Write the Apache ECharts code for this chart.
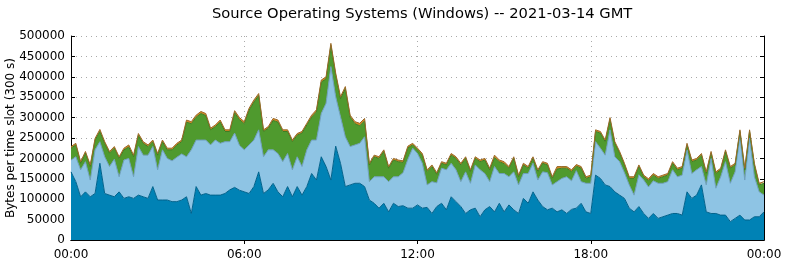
<!DOCTYPE html>
<html>
<head>
<meta charset="utf-8">
<script src="https://cdn.jsdelivr.net/npm/echarts@6/dist/echarts.min.js"></script>
<style>
  html, body { margin: 0; padding: 0; background: #fff; }
  #chart { width: 785px; height: 264px; }
</style>
</head>
<body>
<div id="chart"></div>
<script>
// 10-minute slots, 00:00 .. 24:00 (values in bytes per 300 s slot)
var slotMinutes = 10;
var slotCount = 145;

// layer values, bottom to top
var darkBlue = [
    167000, 143000, 106000, 118000, 106000, 114000, 188000, 114000, 110000, 106000,
    118000, 102000, 106000, 102000, 110000, 106000, 102000, 131000, 98000, 98000,
    98000, 94000, 94000, 98000, 106000, 65000, 131000, 110000, 114000, 110000,
    110000, 110000, 114000, 123000, 129000, 122000, 118000, 114000, 131000, 167000,
    114000, 123000, 139000, 118000, 106000, 131000, 106000, 131000, 110000, 131000,
    163000, 147000, 204000, 180000, 147000, 230000, 188000, 131000, 135000, 139000,
    139000, 131000, 98000, 90000, 78000, 90000, 69000, 90000, 82000, 84000,
    78000, 78000, 86000, 78000, 80000, 65000, 82000, 90000, 74000, 106000,
    94000, 82000, 65000, 74000, 78000, 57000, 74000, 82000, 69000, 90000,
    69000, 86000, 74000, 65000, 102000, 90000, 118000, 98000, 82000, 74000,
    78000, 69000, 74000, 65000, 75000, 78000, 90000, 69000, 65000, 159000,
    151000, 135000, 131000, 118000, 110000, 102000, 78000, 69000, 82000, 65000,
    53000, 65000, 53000, 57000, 61000, 65000, 65000, 61000, 118000, 102000,
    110000, 135000, 69000, 65000, 65000, 61000, 61000, 45000, 53000, 61000,
    49000, 49000, 57000, 57000, 69000
];
var lightBlue = [
    29000, 61000, 66000, 74000, 41000, 107000, 53000, 90000, 70000, 92000,
    37000, 94000, 94000, 53000, 119000, 102000, 106000, 98000, 74000, 123000,
    102000, 100000, 109000, 113000, 98000, 156000, 114000, 135000, 131000, 123000,
    135000, 127000, 127000, 118000, 133000, 110000, 103000, 119000, 114000, 103000,
    90000, 98000, 82000, 94000, 86000, 81000, 66000, 73000, 70000, 90000,
    82000, 98000, 106000, 155000, 278000, 121000, 114000, 122000, 94000, 94000,
    98000, 122000, 45000, 65000, 77000, 65000, 74000, 65000, 73000, 81000,
    120000, 147000, 126000, 110000, 55000, 78000, 58000, 86000, 98000, 82000,
    78000, 61000, 102000, 65000, 106000, 115000, 89000, 61000, 111000, 73000,
    94000, 69000, 93000, 70000, 61000, 73000, 70000, 49000, 85000, 91000,
    57000, 74000, 77000, 90000, 70000, 92000, 53000, 70000, 74000, 82000,
    74000, 73000, 139000, 86000, 82000, 63000, 57000, 41000, 78000, 82000,
    77000, 80000, 86000, 82000, 82000, 107000, 90000, 98000, 103000, 61000,
    62000, 45000, 66000, 135000, 62000, 94000, 131000, 94000, 114000, 192000,
    98000, 201000, 98000, 61000, 41000
];
var green = [
    29000, 29000, 16000, 21000, 33000, 24000, 25000, 33000, 33000, 27000,
    45000, 25000, 28000, 49000, 27000, 29000, 21000, 12000, 36000, 20000,
    21000, 27000, 30000, 30000, 85000, 64000, 56000, 65000, 60000, 37000,
    33000, 52000, 25000, 25000, 50000, 63000, 64000, 85000, 93000, 84000,
    62000, 53000, 72000, 77000, 74000, 54000, 69000, 53000, 82000, 61000,
    56000, 69000, 77000, 60000, 52000, 53000, 44000, 118000, 72000, 52000,
    43000, 39000, 41000, 49000, 45000, 62000, 33000, 41000, 37000, 25000,
    28000, 8000, 9000, 20000, 33000, 37000, 21000, 12000, 12000, 20000,
    28000, 41000, 33000, 29000, 16000, 20000, 33000, 29000, 22000, 29000,
    24000, 21000, 33000, 20000, 21000, 13000, 12000, 21000, 21000, 19000,
    16000, 31000, 25000, 21000, 23000, 11000, 33000, 12000, 16000, 25000,
    37000, 33000, 25000, 33000, 21000, 19000, 16000, 41000, 20000, 8000,
    16000, 14000, 12000, 16000, 16000, 16000, 17000, 17000, 12000, 29000,
    24000, 28000, 28000, 13000, 36000, 17000, 25000, 37000, 17000, 13000,
    25000, 16000, 29000, 17000, 29000
];
var orange = [
    4000, 4000, 4000, 4000, 4000, 4000, 5000, 4000, 4000, 4000,
    4000, 4000, 5000, 4000, 5000, 4000, 4000, 4000, 4000, 4000,
    4000, 4000, 4000, 4000, 5000, 5000, 5000, 5000, 5000, 4000,
    4000, 5000, 4000, 4000, 5000, 5000, 5000, 5000, 5000, 5000,
    4000, 4000, 5000, 5000, 4000, 4000, 4000, 4000, 4000, 4000,
    5000, 5000, 5000, 5000, 5000, 5000, 5000, 5000, 5000, 5000,
    6000, 6000, 4000, 4000, 4000, 4000, 4000, 4000, 4000, 4000,
    4000, 4000, 4000, 4000, 4000, 4000, 4000, 4000, 4000, 4000,
    4000, 4000, 4000, 4000, 4000, 4000, 4000, 4000, 6000, 4000,
    5000, 4000, 4000, 4000, 4000, 4000, 4000, 4000, 4000, 4000,
    4000, 6000, 4000, 4000, 4000, 4000, 4000, 4000, 4000, 4000,
    4000, 4000, 5000, 4000, 4000, 4000, 4000, 4000, 4000, 4000,
    4000, 4000, 4000, 4000, 4000, 4000, 4000, 4000, 4000, 4000,
    4000, 4000, 4000, 4000, 4000, 4000, 4000, 4000, 4000, 4000,
    4000, 4000, 4000, 4000, 4000
];

var yTicks = [0, 50000, 100000, 150000, 200000, 250000, 300000, 350000, 400000, 450000, 500000];

// category labels HH:MM for each slot
var timeLabels = [];
for (var i = 0; i < slotCount; i++) {
    var m = i * slotMinutes;
    var h = Math.floor(m / 60) % 24;
    var mm = m % 60;
    timeLabels.push((h < 10 ? '0' : '') + h + ':' + (mm < 10 ? '0' : '') + mm);
}

var chart = echarts.init(document.getElementById('chart'));

var font = 'DejaVu Sans';
var everySix = function (idx) { return idx % 36 === 0; };
var inner = function (idx) { return idx % 36 === 0 && idx !== 0 && idx !== slotCount - 1; };

function layer(name, data, fill, edge) {
    return {
        name: name,
        type: 'line',
        stack: 'os',
        data: data,
        symbol: 'none',
        smooth: false,
        xAxisIndex: 0,
        yAxisIndex: 0,
        lineStyle: { color: edge, width: 1 },
        areaStyle: { color: fill, opacity: 1 },
        itemStyle: { color: fill },
        animation: false
    };
}

var option = {
    animation: false,
    title: {
        text: 'Source Operating Systems (Windows) -- 2021-03-14 GMT',
        left: 207,
        top: 2,
        textStyle: { fontFamily: font, fontSize: 14.7, fontWeight: 'normal', color: '#000' }
    },
    grid: { left: 71, right: 21, top: 36, bottom: 24, outerBoundsMode: 'none', containLabel: false },
    xAxis: [
        {
            type: 'category',
            data: timeLabels,
            boundaryGap: false,
            axisLine: { show: true, lineStyle: { color: '#000', width: 1 } },
            axisTick: { show: true, inside: true, length: 4, interval: inner, lineStyle: { color: '#000' } },
            axisLabel: { interval: everySix, fontFamily: font, fontSize: 12, color: '#000', margin: 9 },
            splitLine: { show: true, interval: inner, lineStyle: { color: '#aaa', type: [1, 4], width: 1 } }
        },
        {
            type: 'category',
            data: timeLabels,
            position: 'top',
            boundaryGap: false,
            axisLine: { show: true, lineStyle: { color: '#000', width: 1 } },
            axisTick: { show: true, inside: true, length: 4, interval: inner, lineStyle: { color: '#000' } },
            axisLabel: { show: false },
            splitLine: { show: false }
        }
    ],
    yAxis: [
        {
            type: 'value',
            min: yTicks[0],
            max: yTicks[yTicks.length - 1],
            interval: yTicks[1] - yTicks[0],
            name: 'Bytes per time slot (300 s)',
            nameLocation: 'middle',
            nameGap: 54,
            nameMoveOverlap: false,
            nameTextStyle: { fontFamily: font, fontSize: 12, color: '#000' },
            axisLine: { show: true, lineStyle: { color: '#000', width: 1 } },
            axisTick: { show: true, inside: true, length: 4, lineStyle: { color: '#000' } },
            axisLabel: {
                fontFamily: font, fontSize: 12, color: '#000', margin: 6,
                formatter: function (v) { return String(v); }
            },
            splitLine: { show: true, lineStyle: { color: '#aaa', type: [1, 4], width: 1 } }
        },
        {
            type: 'value',
            position: 'right',
            min: yTicks[0],
            max: yTicks[yTicks.length - 1],
            interval: yTicks[1] - yTicks[0],
            axisLine: { show: true, lineStyle: { color: '#000', width: 1 } },
            axisTick: { show: true, inside: true, length: 4, lineStyle: { color: '#000' } },
            axisLabel: { show: false },
            splitLine: { show: false }
        }
    ],
    series: [
        layer('dark', darkBlue, '#0082b5', '#00628c'),
        layer('light', lightBlue, '#8ec4e4', '#6f9fbd'),
        layer('green', green, '#4f9a2e', '#3c7c22'),
        layer('orange', orange, '#d98a26', '#9a6a2a')
    ]
};

chart.setOption(option);
</script>
</body>
</html>
